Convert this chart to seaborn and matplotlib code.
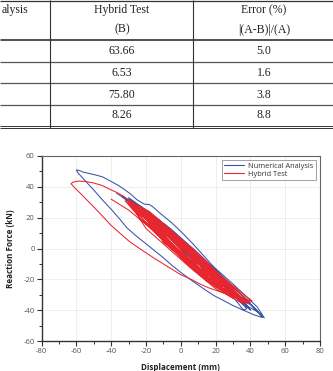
import matplotlib
matplotlib.use("Agg")
import matplotlib.pyplot as plt
import numpy as np
import pandas as pd
import seaborn as sns
from matplotlib.ticker import MultipleLocator

# ---------------- data ----------------
left_header = "alysis"          # visible (cropped) part of the first header
hybrid_header = ["Hybrid Test", "(B)"]
error_header = ["Error (%)", "|(A-B)|/(A)"]
hybrid_values = ["63.66", "6.53", "75.80", "8.26"]
error_values = ["5.0", "1.6", "3.8", "8.8"]

series_names = ["Numerical Analysis", "Hybrid Test"]
series_colors = ["#3a53a4", "#e8262d"]

# (displacement mm, reaction force kN)
numerical_pts = [
    (-37, 36), (-28, 29), (-15, 16), (0, 1), (12, -10), (24, -22), (30, -28),
    (20, -16), (6, -1), (-8, 13), (-22, 26), (-30, 32),
    (-20, 22), (-6, 7), (8, -7), (22, -20), (34, -32), (38, -38),
    (28, -24), (14, -9), (0, 6), (-14, 20), (-24, 28),
    (-14, 16), (0, 1), (14, -13), (28, -27), (36, -34), (40, -40),
    (30, -27), (16, -11), (2, 4), (-12, 18), (-26, 29), (-34, 34),
    (-22, 24), (-8, 10), (8, -6), (22, -20), (34, -31), (42, -38), (48, -45),
    (46, -41.5), (44, -38), (37, -30.5), (30, -23), (24, -17), (19, -12),
    (13, -4.5), (7, 3), (1, 10), (-5, 16.5), (-12, 23), (-16, 27), (-18, 28.5),
    (-21, 28.8), (-25, 31.5), (-29, 35.5), (-33, 38.8), (-36, 41), (-40, 43.5),
    (-45, 46.5), (-50, 48), (-56, 49.5), (-58, 50.5), (-60, 51),
    (-59, 49), (-57, 46.5), (-55, 44), (-50, 38), (-45, 31.5), (-40, 25.5),
    (-35, 19), (-31, 13.5), (-26, 8.5), (-21, 4), (-15, -1.5), (-10, -6),
    (-5, -11), (0, -15.5), (6, -20.5), (13, -26), (19, -30.5), (25, -34),
    (30, -37), (35, -39.5), (42, -43), (47, -44.8),
    (36, -31), (22, -16), (8, -1), (-6, 13), (-20, 25), (-30, 33),
    (-20, 21), (-6, 6), (8, -8), (22, -22), (36, -36), (44, -41),
    (34, -29), (20, -15), (6, 0), (-8, 14), (-22, 26),
    (-12, 13), (2, -2), (16, -16), (30, -30), (38, -39), (36, -40), (34, -37),
    (24, -23), (10, -8), (-4, 7), (-16, 19), (-26, 28),
    (-14, 15), (0, 0), (14, -14), (26, -25), (35, -33),
    (24, -19), (10, -5), (-4, 9), (-18, 22),
    (-6, 8), (8, -6), (20, -18), (32, -30),
    (20, -16), (6, -2), (-8, 12),
    (4, -1), (16, -13), (28, -26),
    (16, -12), (2, 2), (-10, 13),
    (0, 2), (12, -10), (22, -20),
    (10, -6), (0, 3), (4, 0),
]

hybrid_pts = [
    (-40, 32), (-30, 25), (-15, 11), (0, -4), (12, -16), (22, -25),
    (12, -12), (0, 1), (-15, 15), (-30, 29),
    (-20, 17), (-5, 1), (10, -15), (22, -25), (30, -32),
    (20, -17), (5, -2), (-10, 12), (-25, 27),
    (-15, 11), (0, -6), (15, -21), (28, -30), (35, -34),
    (25, -22), (10, -6), (-5, 9), (-20, 23), (-32, 31),
    (-22, 18), (-10, 5), (5, -11), (20, -25), (32, -32), (38, -35),
    (28, -24), (12, -7), (-2, 7), (-15, 20), (-28, 28),
    (-18, 14), (-5, 1), (10, -15), (22, -25), (33, -31),
    (22, -17), (8, -3), (-6, 11), (-20, 24),
    (-10, 7), (2, -6), (15, -19), (28, -29),
    (18, -14), (5, 0), (-10, 14), (-25, 25),
    (-12, 9), (3, -8), (18, -22), (30, -30), (40, -35),
    (30, -25), (15, -10), (0, 4), (-15, 18), (-28, 30), (-33, 34), (-37, 36.5),
    (-40, 38), (-45, 40.8), (-50, 42.5), (-55, 43.5), (-59, 43.7), (-62, 43), (-63, 42),
    (-61, 39.5), (-57, 35), (-50, 27), (-45, 21), (-40, 15), (-35, 10), (-30, 5),
    (-25, 1), (-21, -2), (-15, -6.5), (-10, -10), (-5, -13.5), (0, -17), (6, -20),
    (11, -23), (16, -25.5), (20, -27), (25, -29), (30, -31), (36, -33), (41, -34),
    (32, -26), (18, -13), (5, 1), (-10, 16), (-22, 26), (-30, 31),
    (-20, 19), (-8, 6), (6, -9), (20, -23), (34, -33),
    (22, -18), (8, -4), (-6, 10), (-18, 21),
    (-6, 4), (6, -10), (18, -21), (30, -30), (37, -35),
    (26, -21), (12, -8), (-3, 8), (-16, 19), (-26, 27),
    (-14, 12), (-2, -1), (12, -16), (25, -27),
    (14, -11), (2, 1), (-12, 15), (-22, 22),
    (-10, 8), (4, -8), (16, -19), (30, -31), (39, -36),
    (28, -25), (14, -11), (0, 3), (-14, 17), (-24, 25),
    (-12, 9), (0, -3), (12, -14), (24, -24),
    (12, -10), (0, 3), (-12, 13),
    (0, -1), (10, -12), (20, -21), (32, -30),
    (20, -18), (6, -5), (-8, 9), (-20, 20),
    (-8, 5), (5, -9), (18, -22), (28, -28),
    (16, -13), (4, -1), (-8, 11),
    (2, -3), (14, -16), (24, -25),
    (10, -9), (-2, 4), (-14, 14),
    (-4, 2), (8, -10), (20, -20),
    (8, -6), (-2, 2), (4, -3),
    (16, -20), (28, -31), (36, -36),
    (24, -19), (10, -3), (-4, 10), (-18, 24), (-30, 31),
    (-20, 13), (-8, 1), (6, -13), (20, -26), (30, -32),
    (18, -15), (4, 1), (-10, 15), (-22, 26),
    (-10, 4), (2, -7), (14, -19), (26, -29),
]

x_ticks = [-80, -60, -40, -20, 0, 20, 40, 60, 80]
y_ticks = [-60, -40, -20, 0, 20, 40, 60]

# ---------------- build frame ----------------
frames = []
for name, pts in zip(series_names, [numerical_pts, hybrid_pts]):
    arr = np.array(pts, dtype=float)
    frames.append(pd.DataFrame({"Displacement": arr[:, 0], "Force": arr[:, 1],
                                "Series": name}))
df = pd.concat(frames, ignore_index=True)

# ---------------- style ----------------
sns.set_theme(style="ticks")
plt.rcParams["font.family"] = ["Open Sans", "DejaVu Sans"]
plt.rcParams["axes.unicode_minus"] = False

W, H = 333, 371
fig = plt.figure(figsize=(W / 100, H / 100), dpi=100)

# ---------------- table (pixel coordinates) ----------------
axt = fig.add_axes([0, 0, 1, 1])
axt.set_xlim(0, W)
axt.set_ylim(H, 0)
axt.axis("off")
serif = ["Liberation Serif", "DejaVu Serif"]
tc = "#222222"
fs = 8.5
axt.hlines([0.6], 0, W, color="#333333", lw=0.9)
axt.hlines([38.6, 40.4], 0, W, color="#333333", lw=0.6)
axt.hlines([61.8, 82.8, 105.0], 0, W, color="#555555", lw=0.9)
axt.hlines([126.2, 127.8], 0, W, color="#333333", lw=0.7)
axt.vlines([50.2, 193.3], 0, 127.8, color="#333333", lw=0.8)
axt.text(28.5, 10.5, left_header, ha="right", va="center", fontsize=fs, family=serif, color=tc)
axt.text(122, 10.5, hybrid_header[0], ha="center", va="center", fontsize=fs, family=serif, color=tc)
axt.text(122, 29.5, hybrid_header[1], ha="center", va="center", fontsize=fs, family=serif, color=tc)
axt.text(264, 10.5, error_header[0], ha="center", va="center", fontsize=fs, family=serif, color=tc)
axt.text(264, 29.5, error_header[1], ha="center", va="center", fontsize=fs, family=serif, color=tc)
row_y = [50.5, 72.5, 94.5, 115.5]
for yy, hv, ev in zip(row_y, hybrid_values, error_values):
    axt.text(122, yy, hv, ha="center", va="center", fontsize=fs, family=serif, color=tc)
    axt.text(264, yy, ev, ha="center", va="center", fontsize=fs, family=serif, color=tc)

# ---------------- chart ----------------
x0, x1, y0, y1 = 41.5, 320.0, 156.0, 341.0
ax = fig.add_axes([x0 / W, 1 - y1 / H, (x1 - x0) / W, (y1 - y0) / H])
sns.lineplot(data=df, x="Displacement", y="Force", hue="Series",
             palette=dict(zip(series_names, series_colors)),
             sort=False, estimator=None, lw=0.75, ax=ax)

ax.set_xlim(-80, 80)
ax.set_ylim(-60, 60)
ax.set_xticks(x_ticks)
ax.set_yticks(y_ticks)
ax.xaxis.set_minor_locator(MultipleLocator(10))
ax.yaxis.set_minor_locator(MultipleLocator(10))
ax.grid(True, which="major", color="#e9e9e9", lw=0.5)
ax.set_axisbelow(True)
ax.tick_params(which="major", direction="out", length=3.5, width=0.8,
               color="#333333", labelcolor="#555555", labelsize=5.5, pad=1.5,
               top=False, right=False)
ax.tick_params(which="minor", direction="out", length=2, width=0.7,
               color="#333333", top=False, right=False)
for side in ["left", "bottom"]:
    ax.spines[side].set_color("#333333")
    ax.spines[side].set_linewidth(1.0)
for side in ["top", "right"]:
    ax.spines[side].set_color("#666666")
    ax.spines[side].set_linewidth(0.8)

ax.set_xlabel("Displacement (mm)", fontsize=5.8, fontweight="bold", color="#222222", labelpad=6)
ax.set_ylabel("Reaction Force (kN)", fontsize=5.8, fontweight="bold", color="#222222", labelpad=6)

handles, labels = ax.get_legend_handles_labels()
leg = ax.legend(handles, labels, loc="upper right", frameon=True, fancybox=False,
                edgecolor="#777777", fontsize=5.3, handlelength=2.8, handletextpad=0.5,
                borderpad=0.3, labelspacing=0.15, borderaxespad=0.6)
leg.get_frame().set_linewidth(0.6)
for t in leg.get_texts():
    t.set_color("#333333")
for l in leg.get_lines():
    l.set_linewidth(0.8)

fig.savefig("out.png", dpi=100)
